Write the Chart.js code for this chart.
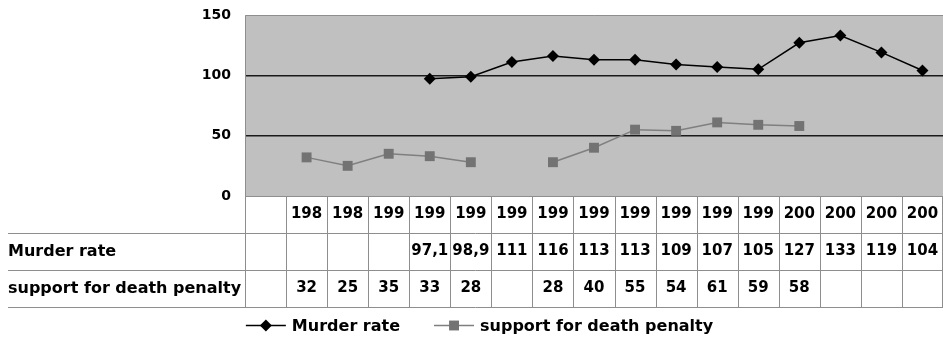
<!DOCTYPE html>
<html>
<head>
<meta charset="utf-8">
<script src="https://cdn.jsdelivr.net/npm/chart.js@4.4.1/dist/chart.umd.min.js"></script>
<style>
  html, body { margin: 0; padding: 0; background: #fff; overflow: hidden; }
  #c { display: block; }
</style>
</head>
<body>
<canvas id="c" width="943" height="344"></canvas>
<script>
// Year labels as they appear in the data table (truncated in the table cells)
const yearLabels = ['198', '198', '199', '199', '199', '199', '199', '199',
                    '199', '199', '199', '199', '200', '200', '200', '200'];
// Murder rate per year (null = no value)
const murderRate = [null, null, null, 97.1, 98.9, 111, 116, 113,
                    113, 109, 107, 105, 127, 133, 119, 104];
// Support for death penalty per year (null = no value)
const deathPenaltySupport = [32, 25, 35, 33, 28, null, 28, 40,
                             55, 54, 61, 59, 58, null, null, null];
// Value axis ticks
const yTicks = [0, 50, 100, 150];

const seriesNames = ['Murder rate', 'support for death penalty'];

// One empty leading slot sits above the row titles' column of the table
const labels = [''].concat(yearLabels);
const murderData = [null].concat(murderRate);
const supportData = [null].concat(deathPenaltySupport);

const FONT = '"DejaVu Sans", sans-serif';
const TABLE_H = 111;
const LEGEND_H = 37;
const LINE_GREY = '#8e8e8e';

function fmt(v) {
  if (v === null || v === undefined) return '';
  return String(v).replace('.', ',');
}

const plotBackground = {
  id: 'plotBackground',
  beforeDraw(chart) {
    const { ctx, chartArea: a } = chart;
    ctx.save();
    ctx.fillStyle = '#c0c0c0';
    ctx.fillRect(a.left, a.top, a.right - a.left, a.bottom - a.top);
    ctx.restore();
  },
  beforeDatasetsDraw(chart) {
    const { ctx, chartArea: a } = chart;
    ctx.save();
    ctx.strokeStyle = LINE_GREY;
    ctx.lineWidth = 1;
    ctx.beginPath();
    ctx.moveTo(a.left + 0.5, a.bottom);
    ctx.lineTo(a.left + 0.5, a.top + 0.5);
    ctx.lineTo(a.right, a.top + 0.5);
    ctx.stroke();
    ctx.restore();
  }
};

const dataTable = {
  id: 'dataTable',
  afterDraw(chart) {
    const { ctx, chartArea: a } = chart;
    const xs = chart.scales.x;
    const n = labels.length;
    const slot = (a.right - a.left) / n;
    const top = a.bottom;
    const rowH = TABLE_H / 3;
    const rows = [top, top + rowH, top + 2 * rowH, top + TABLE_H];
    const leftEdge = 8;

    ctx.save();
    ctx.strokeStyle = LINE_GREY;
    ctx.lineWidth = 1;
    ctx.beginPath();
    ctx.moveTo(a.left, Math.round(rows[0]) + 0.5);
    ctx.lineTo(a.right, Math.round(rows[0]) + 0.5);
    for (let r = 1; r < 4; r++) {
      const y = Math.round(rows[r]) + 0.5;
      ctx.moveTo(leftEdge, y);
      ctx.lineTo(a.right, y);
    }
    for (let i = 0; i <= n; i++) {
      const x = Math.round(Math.min(a.left + i * slot, a.right - 1)) + 0.5;
      ctx.moveTo(x, rows[0]);
      ctx.lineTo(x, rows[3]);
    }
    ctx.stroke();

    ctx.fillStyle = '#000';
    ctx.textBaseline = 'middle';
    // row titles
    ctx.font = 'bold 16px ' + FONT;
    ctx.textAlign = 'left';
    ctx.fillText(seriesNames[0], leftEdge, (rows[1] + rows[2]) / 2);
    ctx.fillText(seriesNames[1], leftEdge, (rows[2] + rows[3]) / 2);

    // cell values
    ctx.font = 'bold 15px ' + FONT;
    ctx.textAlign = 'center';
    for (let i = 0; i < n; i++) {
      const cx = xs.getPixelForValue(i);
      ctx.fillText(labels[i], cx, (rows[0] + rows[1]) / 2);
      ctx.fillText(fmt(murderData[i]), cx, (rows[1] + rows[2]) / 2);
      ctx.fillText(fmt(supportData[i]), cx, (rows[2] + rows[3]) / 2);
    }

    // legend: line with marker, then series name
    const ly = top + TABLE_H + LEGEND_H / 2;
    ctx.font = 'bold 16px ' + FONT;
    const lineW = 40, gapT = 6, gapItems = 34;
    const w0 = ctx.measureText(seriesNames[0]).width;
    const w1 = ctx.measureText(seriesNames[1]).width;
    const total = lineW + gapT + w0 + gapItems + lineW + gapT + w1;
    let x = chart.width / 2 - total / 2 + 8;
    const ds = chart.data.datasets;
    for (let k = 0; k < 2; k++) {
      const d = ds[k];
      ctx.strokeStyle = d.borderColor;
      ctx.lineWidth = d.borderWidth;
      ctx.beginPath();
      ctx.moveTo(x, ly);
      ctx.lineTo(x + lineW, ly);
      ctx.stroke();
      ctx.fillStyle = d.pointBackgroundColor;
      ctx.strokeStyle = d.pointBorderColor;
      Chart.helpers.drawPoint(ctx, {
        pointStyle: d.pointStyle,
        radius: d.pointRadius,
        borderWidth: 0
      }, x + lineW / 2, ly);
      ctx.fillStyle = '#000';
      ctx.textAlign = 'left';
      ctx.fillText(seriesNames[k], x + lineW + gapT, ly + 1);
      x += lineW + gapT + (k === 0 ? w0 : w1) + gapItems;
    }
    ctx.restore();
  }
};

new Chart(document.getElementById('c'), {
  type: 'line',
  data: {
    labels: labels,
    datasets: [
      {
        label: seriesNames[0],
        data: murderData,
        borderColor: '#000000',
        borderWidth: 1.5,
        pointStyle: 'rectRot',
        pointRadius: 6,
        pointBackgroundColor: '#000000',
        pointBorderColor: '#000000',
        pointBorderWidth: 0,
        tension: 0,
        spanGaps: false
      },
      {
        label: seriesNames[1],
        data: supportData,
        borderColor: '#7f7f7f',
        borderWidth: 1.5,
        pointStyle: 'rect',
        pointRadius: 7,
        pointBackgroundColor: '#737373',
        pointBorderColor: '#737373',
        pointBorderWidth: 0,
        tension: 0,
        spanGaps: false
      }
    ]
  },
  options: {
    responsive: false,
    animation: false,
    devicePixelRatio: 1,
    layout: { autoPadding: false, padding: { top: 15, right: 0, bottom: LEGEND_H, left: 0 } },
    plugins: {
      legend: { display: false },
      tooltip: { enabled: false }
    },
    scales: {
      x: {
        type: 'category',
        offset: true,
        grid: { display: false, drawTicks: false },
        border: { display: false },
        ticks: { display: false },
        afterFit(scale) { scale.height = TABLE_H; }
      },
      y: {
        min: yTicks[0],
        max: yTicks[yTicks.length - 1],
        afterBuildTicks(scale) { scale.ticks = yTicks.map(v => ({ value: v })); },
        grid: {
          drawTicks: true,
          tickLength: 14,
          tickColor: 'rgba(0,0,0,0)',
          color: ctx => (ctx.tick && (ctx.tick.value === 50 || ctx.tick.value === 100)) ? '#1a1a1a' : 'rgba(0,0,0,0)',
          lineWidth: 1.5
        },
        border: { display: false },
        ticks: {
          color: '#000',
          padding: 0,
          font: { family: FONT, size: 14, weight: 'bold' }
        },
        afterFit(scale) { scale.width = 245; }
      }
    }
  },
  plugins: [plotBackground, dataTable]
});
</script>
</body>
</html>
